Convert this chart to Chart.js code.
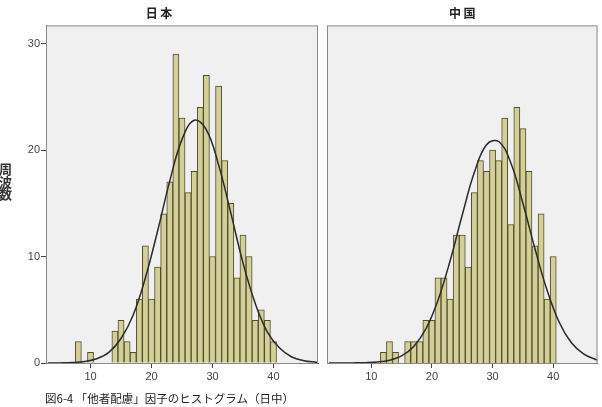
<!DOCTYPE html>
<html>
<head>
<meta charset="utf-8">
<script src="https://cdn.jsdelivr.net/npm/chart.js@4"></script>
<style>
  body { margin: 0; background: #fff; width: 602px; height: 407px; position: relative; overflow: hidden;
         font-family: "Noto Sans CJK JP", "Noto Sans", sans-serif; }
  canvas { position: absolute; top: 0; }
  #ylab { position: absolute; left: -1px; top: 163px; font-size: 13px; line-height: 12.5px; font-weight: bold; color: #333; width: 14px; }
  #caption { position: absolute; left: 45px; top: 390px; font-size: 11.5px; color: #222; white-space: nowrap; }
</style>
</head>
<body>
<canvas id="jp" width="320" height="392" style="left:0;width:320px;height:392px"></canvas>
<canvas id="cn" width="282" height="392" style="left:320px;width:282px;height:392px"></canvas>
<div id="ylab">周<br>波<br>数</div>
<div id="caption">図6-4 「他者配慮」因子のヒストグラム（日中）</div>
<script>
// bin centers (width 1) and counts
const jpBins = [8, 10, 14, 15, 16, 17, 18, 19, 20, 21, 22, 23, 24, 25, 26, 27, 28, 29, 30, 31, 32, 33, 34, 35, 36, 37, 38, 39, 40];
const jpCounts = [2, 1, 3, 4, 2, 1, 6, 11, 6, 9, 14, 17, 29, 23, 16, 18, 24, 27, 10, 26, 19, 15, 8, 12, 10, 4, 5, 4, 2];
const cnBins = [12, 13, 14, 15, 16, 17, 18, 19, 20, 21, 22, 23, 24, 25, 26, 27, 28, 29, 30, 31, 32, 33, 34, 35, 36, 37, 38, 39, 40];
const cnCounts = [1, 2, 1, 0, 2, 2, 2, 4, 4, 8, 8, 6, 12, 12, 9, 16, 19, 18, 20, 19, 23, 13, 24, 22, 18, 11, 14, 6, 10];

// normal curve heights
const curveX = [3, 5, 7, 9, 11, 13, 15, 17, 19, 21, 23, 25, 27, 29, 31, 33, 35, 37, 39, 41, 43, 45, 47, 47.5];
const jpCurve = [0, 0.01, 0.04, 0.14, 0.4, 1.0, 2.3, 4.5, 8.0, 12.4, 17.1, 21.0, 22.8, 21.9, 18.6, 14.1, 9.4, 5.6, 2.9, 1.4, 0.56, 0.21, 0.07, 0.05];
const cnCurve = [0, 0, 0.01, 0.03, 0.09, 0.26, 0.67, 1.56, 3.2, 5.9, 9.6, 13.9, 17.9, 20.5, 20.8, 18.8, 15.0, 10.7, 6.8, 3.8, 1.9, 0.85, 0.33, 0.26];

const xTicks = [10, 20, 30, 40];
const yTicks = [0, 10, 20, 30];

const panelFrame = {
  id: 'panelFrame',
  beforeDraw(chart) {
    const { ctx, chartArea: a } = chart;
    ctx.save();
    ctx.fillStyle = '#f0f0f0';
    ctx.fillRect(a.left, a.top, a.right - a.left, a.bottom - a.top);
    ctx.restore();
  },
  afterDraw(chart) {
    const { ctx, chartArea: a } = chart;
    ctx.save();
    ctx.strokeStyle = '#8a8a8a';
    ctx.lineWidth = 1;
    ctx.strokeRect(a.left + 0.5, a.top + 0.5, a.right - a.left - 1, a.bottom - a.top);
    ctx.restore();
  }
};

function makeChart(id, title, bins, counts, curve, showY, pad) {
  return new Chart(document.getElementById(id), {
    data: {
      datasets: [{
        type: 'line',
        data: curveX.map((x, i) => ({ x: x, y: curve[i] })),
        borderColor: '#2a2a2a',
        borderWidth: 1.5,
        pointRadius: 0,
        tension: 0.4,
        fill: false
      }, {
        type: 'bar',
        data: bins.map((x, i) => ({ x: x, y: counts[i] })),
        backgroundColor: '#d4cf96',
        borderColor: '#4f4c30',
        borderWidth: 1,
        barPercentage: 1,
        categoryPercentage: 1,
        grouped: false
      }]
    },
    options: {
      responsive: false,
      animation: false,
      layout: { padding: pad },
      plugins: {
        legend: { display: false },
        tooltip: { enabled: false },
        title: {
          display: true, text: title, color: '#222',
          font: { family: '"Noto Sans CJK JP"', size: 12, weight: 'bold', lineHeight: 1.2 },
          padding: { top: 6, bottom: 5 }
        }
      },
      scales: {
        x: {
          type: 'linear', min: 2.7, max: 47.3, offset: false,
          afterBuildTicks: s => { s.ticks = xTicks.map(v => ({ value: v })); },
          afterFit: s => { s.height = 29; },
          grid: { drawOnChartArea: false, drawTicks: true, tickLength: 5, color: '#444', offset: false },
          border: { display: true, color: '#444', width: 1 },
          ticks: { color: '#444', font: { family: 'Arial, "Liberation Sans"', size: 11 }, padding: 2, maxRotation: 0 }
        },
        y: {
          display: showY,
          min: 0, max: 31.7,
          afterBuildTicks: s => { s.ticks = yTicks.map(v => ({ value: v })); },
          afterFit: s => { s.width = showY ? 46 : 0; },
          grid: { drawOnChartArea: false, drawTicks: true, tickLength: 5, color: '#444' },
          border: { display: true, color: '#444', width: 1 },
          ticks: { color: '#444', font: { family: 'Arial, "Liberation Sans"', size: 11 }, padding: 1 }
        }
      }
    },
    plugins: [panelFrame]
  });
}

makeChart('jp', '日 本', jpBins, jpCounts, jpCurve, true, { left: 0, right: 2, top: 0, bottom: 0 });
makeChart('cn', '中 国', cnBins, cnCounts, cnCurve, false, { left: 7, right: 4.5, top: 0, bottom: 0 });
</script>
</body>
</html>
